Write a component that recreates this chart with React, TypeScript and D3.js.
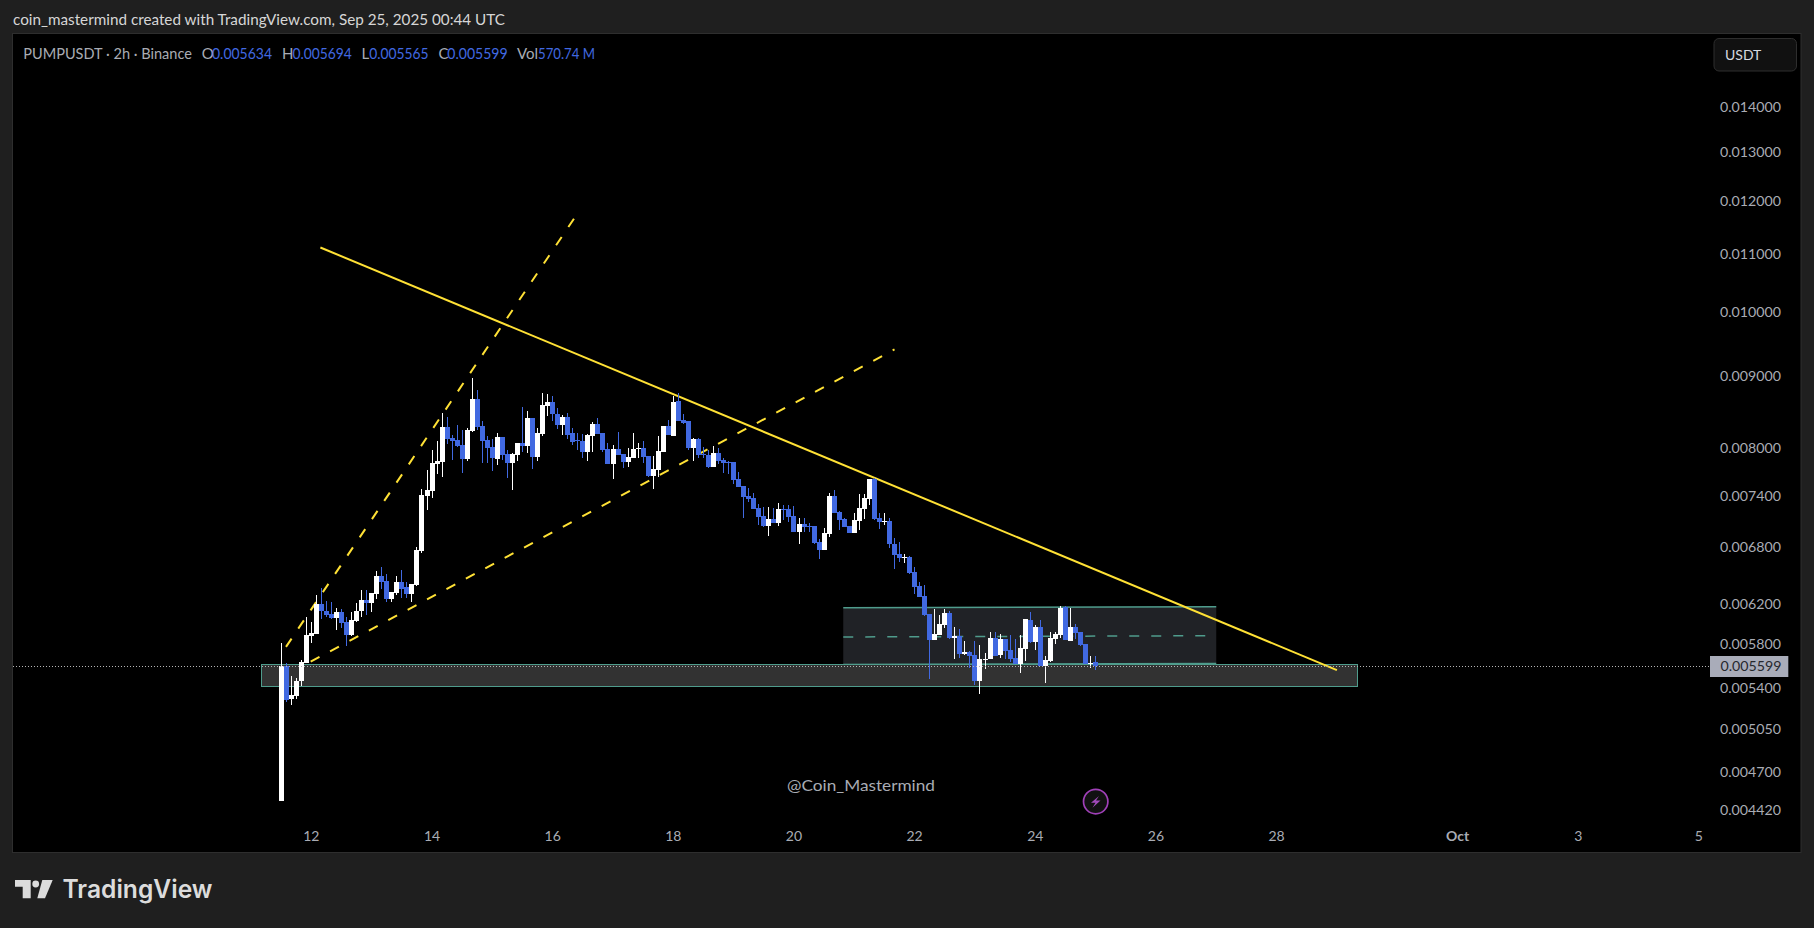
import React from "react";
import * as d3 from "d3";

// Prices below are in millionths of a USDT.
const opens = [4488,5598,5304,5332,5457,5628,5881,5900,6198,6127,6097,6057,6117,6017,5890,6027,6127,6238,6208,6298,6489,6436,6248,6308,6425,6372,6298,6394,6760,7396,7458,7795,7820,8282,8136,8110,8043,7858,8229,8672,8295,8110,8017,7858,8149,7924,7807,7911,8070,8030,8407,7885,8189,8574,8630,8467,8309,8421,8202,8110,8096,7951,8163,8323,8202,7990,7795,7990,7924,7820,7871,7990,8004,7898,7645,7720,7951,8295,8163,8644,8379,8365,8004,8123,7924,7911,7757,7938,7845,7820,7820,7607,7520,7396,7373,7254,7159,7041,7124,7076,7242,7242,7159,6973,7065,7041,7041,6860,6771,6951,7396,7202,7124,7041,6962,7100,7242,7361,7607,7136,7088,7100,6838,6726,6682,6693,6532,6383,6278,6097,5843,5890,5987,6107,5862,5881,5709,5728,5700,5463,5652,5662,5862,5700,5852,5747,5671,5616,5757,6037,5824,5967,5598,5643,5852,5890,6168,5833,5967,5919,5805,5619,5634];
const highs = [5811,5622,5508,5487,5652,6067,6017,6288,6362,6228,6218,6158,6148,6067,6117,6208,6340,6340,6308,6542,6585,6510,6319,6489,6553,6425,6404,6805,7479,7720,7977,8096,8477,8416,8176,8309,8242,8268,8977,8800,8365,8163,8123,8202,8149,7977,7938,8070,8560,8505,8407,8268,8756,8742,8714,8546,8447,8477,8268,8202,8189,8189,8351,8407,8202,8070,8043,8215,7924,8004,8202,8070,8096,7898,7898,8163,8295,8379,8714,8756,8463,8365,8136,8136,8017,7977,8030,8004,7871,7832,7820,7695,7520,7495,7432,7302,7266,7266,7254,7313,7290,7290,7278,7136,7136,7076,7041,6894,7018,7432,7470,7214,7136,7041,7195,7420,7420,7607,7620,7195,7195,7136,6909,6860,6726,6704,6585,6425,6394,6097,6148,6087,6148,6127,5967,5947,5833,5738,5833,5795,5719,5919,5919,5900,5852,5890,5852,5890,6047,6117,5987,6037,5690,5919,5919,6178,6178,6158,5997,5919,5805,5690,5694];
const lows = [4488,5278,5247,5306,5418,5628,5808,5900,6050,6070,6047,5941,5960,5779,5881,6017,6067,6081,6117,6248,6351,6218,6218,6288,6258,6258,6218,6383,6738,7231,7373,7670,7632,8057,7845,8017,7682,7832,8215,8242,7807,7807,7707,7782,7845,7620,7470,7832,7951,7938,7732,7832,8163,8435,8358,8255,8176,8123,8043,7977,7871,7832,7951,8189,7951,7795,7607,7911,7745,7757,7871,7871,7807,7632,7479,7632,7951,8176,8163,8365,8323,7977,7832,7871,7871,7745,7757,7795,7682,7670,7545,7507,7136,7325,7242,7053,7029,6928,7076,7041,7112,7088,6973,6838,6973,6973,6838,6670,6771,6917,7195,6996,7029,6962,6962,6996,7124,7290,7112,7006,7053,6794,6563,6638,6627,6510,6298,6268,6077,5481,5843,5890,5957,5852,5662,5671,5700,5580,5427,5346,5571,5662,5690,5671,5662,5634,5616,5535,5643,5814,5747,5598,5445,5634,5805,5862,5843,5833,5852,5785,5616,5580,5565];
const closes = [5598,5295,5338,5463,5634,5890,5906,6198,6121,6087,6057,6117,6007,5890,6037,6127,6238,6208,6308,6489,6425,6248,6319,6425,6351,6298,6404,6771,7408,7470,7807,7832,8282,8123,8096,8030,7858,8242,8672,8282,8096,8004,7871,8149,7911,7807,7924,8070,8030,8407,7885,8202,8588,8630,8462,8309,8421,8176,8083,8096,7951,8176,8323,8189,7977,7795,7990,7911,7820,7885,7990,7999,7885,7645,7732,7964,8295,8176,8630,8365,8337,8004,8123,7911,7911,7757,7938,7832,7807,7807,7595,7507,7385,7361,7242,7148,7041,7124,7076,7242,7230,7148,6973,7065,7029,7029,6849,6771,6962,7396,7195,7112,7029,6962,7112,7254,7373,7607,7124,7088,7100,6838,6715,6682,6693,6521,6372,6268,6087,5843,5900,5997,6107,5862,5881,5709,5728,5690,5463,5662,5662,5862,5690,5852,5738,5662,5616,5766,6047,5824,5967,5598,5652,5862,5900,6158,5843,5967,5910,5795,5616,5628,5599];

const firstCandle = new Date(Date.UTC(2025, 8, 11, 12));
const lastCandle = new Date(Date.UTC(2025, 8, 25, 0));

const priceTicks = [0.014, 0.013, 0.012, 0.011, 0.01, 0.009, 0.008, 0.0074, 0.0068, 0.0062, 0.0058, 0.0054, 0.00505, 0.0047, 0.00442];
const timeTickDates = ["2025-09-12","2025-09-14","2025-09-16","2025-09-18","2025-09-20","2025-09-22","2025-09-24","2025-09-26","2025-09-28","2025-10-01","2025-10-03","2025-10-05"];
const timeTickLabels = ["12","14","16","18","20","22","24","26","28","Oct","3","5"];

const lastPrice = 0.005599;
const trendTimes = ["2025-09-12T03:35Z", "2025-09-29T00:00Z"];
const trendPrices = [0.011115, 0.00556];
const fanATimes = ["2025-09-11T13:54Z", "2025-09-16T08:48Z"];
const fanAPrices = [0.005775, 0.011676];
const fanBTimes = ["2025-09-11T23:43Z", "2025-09-21T16:00Z"];
const fanBPrices = [0.005637, 0.009405];
const zoneTimes = ["2025-09-11T04:00Z", "2025-09-29T08:00Z"];
const zonePrices = [0.005612, 0.005411];
const channelTimes = ["2025-09-20T19:36Z", "2025-09-27T00:00Z"];
const channelTop = [0.006157, 0.006168];
const channelMid = [0.00587, 0.005882];
const channelBottom = [0.00561, 0.00562];

const legendParts = [
  { label: "O", value: "0.005634", lx: 201.8, vx: 212, vw: 60 },
  { label: "H", value: "0.005694", lx: 282, vx: 292.4, vw: 59.4 },
  { label: "L", value: "0.005565", lx: 361.6, vx: 369.2, vw: 59.4 },
  { label: "C", value: "0.005599", lx: 438.4, vx: 447.3, vw: 60.3 },
  { label: "Vol", value: "570.74 M", lx: 517, vx: 538, vw: 57 },
];

const UI = "Lato, 'Open Sans', sans-serif";
const GREY = "#a9acb4";
const BLUE = "#4169e1";
const YELLOW = "#ffe135";
const TEAL = "#4f9c8c";

const x = d3.scaleUtc().domain([firstCandle, lastCandle]).range([281.22, 1095.6]);
const y = d3.scaleLog().domain([0.01, 0.00442]).range([312, 312 + 610 * Math.log(0.01 / 0.00442)]);
const candleTimes = d3.utcHour.range(firstCandle, d3.utcHour.offset(lastCandle, 1), 2);
const lineGen = d3.line<[Date, number]>().x((d) => x(d[0])).y((d) => y(d[1]));
const seg = (times: string[], prices: number[]) =>
  lineGen(times.map((t, i) => [new Date(t), prices[i]] as [Date, number])) as string;

export default function App() {
  const px0 = x(new Date(zoneTimes[0]));
  const px1 = x(new Date(zoneTimes[1]));
  const cTimes = channelTimes.map((t) => new Date(t));
  const channelArea = d3
    .area<number>()
    .x((_, i) => x(cTimes[i]))
    .y0((_, i) => y(channelBottom[i]))
    .y1((_, i) => y(channelTop[i]))(channelTop) as string;
  const lastY = y(lastPrice);
  const dottedY = Math.round(lastY) + 0.5;
  return (
    <svg
      width={1814}
      height={928}
      style={{ position: "fixed", left: 0, top: 0, display: "block" }}
      fontFamily={UI}
    >
      <rect width={1814} height={928} fill="#1f1f1f" />
      <rect x={12.5} y={33.5} width={1788.5} height={819} fill="#000" stroke="#2e2e2e" />
      <text x={13} y={25} fontSize={15} fill="#d6d6d6" textLength={492} lengthAdjust="spacingAndGlyphs">
        coin_mastermind created with TradingView.com, Sep 25, 2025 00:44 UTC
      </text>

      {/* drawings beneath the candles */}
      <path d={channelArea} fill="#202226" />
      <path d={seg(channelTimes, channelTop)} stroke={TEAL} strokeWidth={1.5} fill="none" />
      <path d={seg(channelTimes, channelBottom)} stroke={TEAL} strokeWidth={1.5} fill="none" />
      <path d={seg(channelTimes, channelMid)} stroke={TEAL} strokeWidth={1.5} strokeDasharray="10 12" fill="none" />
      <rect
        x={px0}
        y={y(zonePrices[0])}
        width={px1 - px0}
        height={y(zonePrices[1]) - y(zonePrices[0])}
        fill="#323232"
        stroke={TEAL}
        strokeWidth={1}
        shapeRendering="crispEdges"
      />
      <path d={seg(trendTimes, trendPrices)} stroke={YELLOW} strokeWidth={2} fill="none" />
      <path d={seg(fanATimes, fanAPrices)} stroke={YELLOW} strokeWidth={2} strokeDasharray="10 12" fill="none" />
      <path d={seg(fanBTimes, fanBPrices)} stroke={YELLOW} strokeWidth={2} strokeDasharray="10 12" fill="none" />

      {/* candles */}
      <g shapeRendering="crispEdges">
        {candleTimes.map((t, i) => {
          const o = opens[i] / 1e6;
          const h = highs[i] / 1e6;
          const l = lows[i] / 1e6;
          const c = closes[i] / 1e6;
          const cx = Math.floor(x(t));
          const color = c >= o ? "#ffffff" : BLUE;
          const top = Math.round(y(Math.max(o, c)));
          const bot = Math.round(y(Math.min(o, c)));
          return (
            <g key={i} fill={color}>
              <rect x={cx} y={Math.round(y(h))} width={1} height={Math.max(1, Math.round(y(l)) - Math.round(y(h)))} />
              <rect x={cx - 2} y={top} width={5} height={Math.max(1, bot - top)} />
            </g>
          );
        })}
      </g>

      {/* last price line */}
      <line x1={13} x2={1710} y1={dottedY} y2={dottedY} stroke="#b4b4b4" strokeDasharray="1 2" shapeRendering="crispEdges" />

      {/* legend */}
      <text x={23.2} y={59} fontSize={15} fill={GREY} textLength={168.8} lengthAdjust="spacingAndGlyphs">
        PUMPUSDT · 2h · Binance
      </text>
      {legendParts.map((p) => (
        <g key={p.label} fontSize={15}>
          <text x={p.lx} y={59} fill={GREY}>{p.label}</text>
          <text x={p.vx} y={59} fill={BLUE} textLength={p.vw} lengthAdjust="spacingAndGlyphs">{p.value}</text>
        </g>
      ))}

      {/* price scale */}
      <rect x={1714} y={38.5} width={82.5} height={32.5} rx={5} fill="#111111" stroke="#2e2e2e" />
      <text x={1725} y={60} fontSize={14} fill="#d8dae0">USDT</text>
      {priceTicks.map((p) => (
        <text
          key={p}
          x={1781}
          y={y(p)}
          dy="0.35em"
          textAnchor="end"
          fontSize={14}
          fill={GREY}
          textLength={61}
          lengthAdjust="spacingAndGlyphs"
        >
          {p.toFixed(6)}
        </text>
      ))}
      <rect x={1710} y={656} width={78.3} height={21} fill="#a9acb9" />
      <text x={1781.5} y={lastY} dy="0.35em" textAnchor="end" fontSize={14} fill="#26282e" textLength={61} lengthAdjust="spacingAndGlyphs">
        {lastPrice.toFixed(6)}
      </text>

      {/* time scale */}
      {timeTickDates.map((d, i) => (
        <text
          key={d}
          x={x(new Date(d + "T00:00Z"))}
          y={836}
          dy="0.35em"
          textAnchor="middle"
          fontSize={14}
          fill={GREY}
          fontWeight={timeTickLabels[i] === "Oct" ? 700 : 400}
        >
          {timeTickLabels[i]}
        </text>
      ))}

      {/* watermark and marker */}
      <text x={787} y={785} dy="0.35em" fontSize={16} fill={GREY} textLength={148} lengthAdjust="spacingAndGlyphs">
        @Coin_Mastermind
      </text>
      <circle cx={1095.7} cy={801.6} r={12.2} fill="#111" stroke="#a040b8" strokeWidth={1.7} />
      <path d="M1099 796 L1091 802.7 H1095.5 L1092.5 807.8 L1100.5 800.5 H1096 Z" fill="#a24bbb" />

      {/* TradingView logo */}
      <g fill="#dcdcdc">
        <path d="M15 880 H30.7 V898.3 H22.7 V886.7 H15 Z" />
        <circle cx={35.7} cy={884} r={3.4} />
        <path d="M42.3 880 H52.7 L45 898.3 H37.3 Z" />
        <text x={62.5} y={898.3} fontSize={25} fontFamily="Inter, sans-serif" fontWeight={600} textLength={150} lengthAdjust="spacingAndGlyphs">
          TradingView
        </text>
      </g>
    </svg>
  );
}
